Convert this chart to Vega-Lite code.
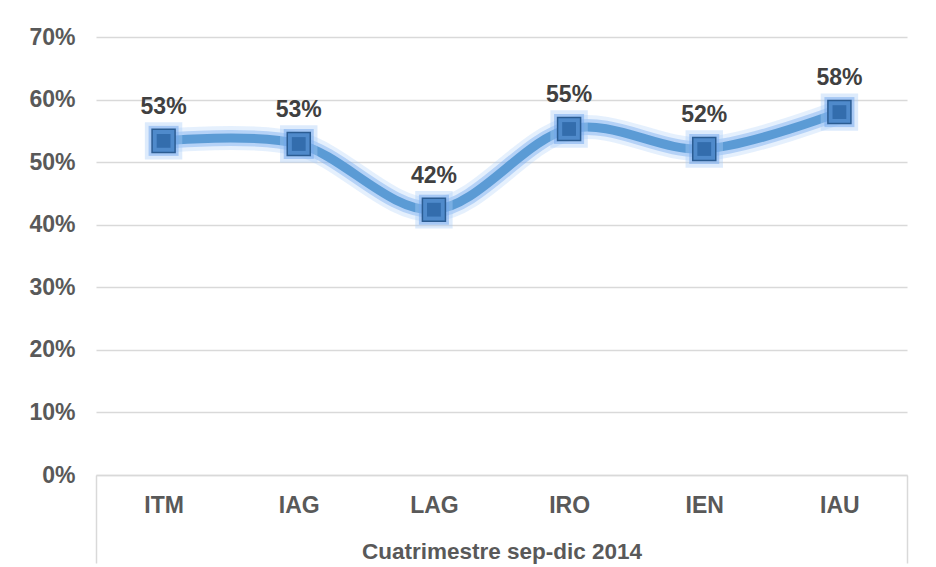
{
  "$schema": "https://vega.github.io/schema/vega-lite/v6.json",
  "autosize": {"type": "none"},
  "width": 811,
  "height": 438,
  "padding": {"left": 96, "top": 37, "right": 29, "bottom": 92},
  "background": "#ffffff",
  "config": {
    "view": {"stroke": null},
    "font": "Liberation Sans"
  },
  "data": {
    "values": [
      {"programa": "ITM", "valor": 0.534},
      {"programa": "IAG", "valor": 0.529},
      {"programa": "LAG", "valor": 0.424},
      {"programa": "IRO", "valor": 0.553},
      {"programa": "IEN", "valor": 0.521},
      {"programa": "IAU", "valor": 0.580}
    ]
  },
  "encoding": {
    "x": {
      "field": "programa",
      "type": "nominal",
      "sort": null,
      "scale": {"paddingInner": 0, "paddingOuter": 0},
      "axis": {
        "title": "Cuatrimestre sep-dic 2014",
        "titleFont": "Liberation Sans",
        "titleFontSize": 22.5,
        "titleFontWeight": "bold",
        "titleColor": "#595959",
        "titleY": 83,
        "titleBaseline": "alphabetic",
        "labelAngle": 0,
        "labelFont": "Liberation Sans",
        "labelFontSize": 23,
        "labelFontWeight": "bold",
        "labelColor": "#595959",
        "labelPadding": -69,
        "domainColor": "#D9D9D9",
        "domainWidth": 1.5,
        "tickBand": "extent",
        "tickSize": 88,
        "tickColor": "#D9D9D9",
        "tickWidth": 1.5,
        "tickOpacity": {"condition": {"test": "datum.value === 'IAU' || !!datum.extra", "value": 1}, "value": 0}
      }
    },
    "y": {
      "field": "valor",
      "type": "quantitative",
      "scale": {"domain": [0, 0.7], "nice": false},
      "axis": {
        "title": null,
        "values": [0, 0.1, 0.2, 0.3, 0.4, 0.5, 0.6, 0.7],
        "format": ".0%",
        "domain": false,
        "ticks": false,
        "grid": true,
        "gridColor": "#D9D9D9",
        "gridWidth": 1.5,
        "labelFont": "Liberation Sans",
        "labelFontSize": 23,
        "labelFontWeight": "bold",
        "labelColor": "#595959",
        "labelPadding": 21
      }
    }
  },
  "layer": [
    {
      "mark": {"type": "line", "interpolate": "cardinal", "stroke": "#A9CCF7", "strokeWidth": 24, "opacity": 0.3, "strokeCap": "round"}
    },
    {
      "mark": {"type": "line", "interpolate": "cardinal", "stroke": "#7AAEF0", "strokeWidth": 16, "opacity": 0.45, "strokeCap": "round"}
    },
    {
      "mark": {"type": "line", "interpolate": "cardinal", "stroke": "#5B9BD5", "strokeWidth": 9}
    },
    {
      "mark": {"type": "point", "shape": "square", "filled": true, "size": 1400, "color": "#A9CCF7", "opacity": 0.4}
    },
    {
      "mark": {"type": "point", "shape": "square", "filled": true, "size": 900, "color": "#6FA6EE", "opacity": 0.5}
    },
    {
      "mark": {"type": "point", "shape": "square", "filled": true, "size": 530, "color": "#4F8ACB", "stroke": "#2B5C92", "strokeWidth": 1.5, "opacity": 1}
    },
    {
      "mark": {"type": "point", "shape": "square", "filled": true, "size": 190, "color": "#336DAD", "opacity": 1}
    },
    {
      "mark": {"type": "text", "font": "Liberation Sans", "fontSize": 23, "fontWeight": "bold", "color": "#404040", "baseline": "alphabetic", "dy": -27},
      "encoding": {"text": {"field": "valor", "type": "quantitative", "format": ".0%"}}
    }
  ]
}
